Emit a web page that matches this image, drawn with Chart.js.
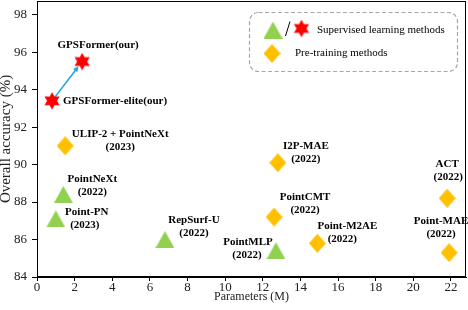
<!DOCTYPE html>
<html>
<head>
<meta charset="utf-8">
<script src="https://cdn.jsdelivr.net/npm/chart.js@4"></script>
<style>
  html, body { margin: 0; padding: 0; background: #fff; }
  #wrap { width: 468px; height: 310px; }
</style>
</head>
<body>
<div id="wrap"><canvas id="myScatter"></canvas></div>
<script>
// supervised learning methods
const supNames = ["PointNeXt", "Point-PN", "RepSurf-U", "PointMLP"];
const supYears = ["(2022)", "(2023)", "(2022)", "(2022)"];
const supParams = [1.4, 1.0, 6.8, 12.7];
const supAcc = [88.4, 87.1, 86.0, 85.4];

// pre-training methods
const preNames = ["ULIP-2 + PointNeXt", "I2P-MAE", "PointCMT", "Point-M2AE", "ACT", "Point-MAE"];
const preYears = ["(2023)", "(2022)", "(2022)", "(2022)", "(2022)", "(2022)"];
const preParams = [1.5, 12.8, 12.6, 14.9, 21.8, 21.9];
const preAcc = [91.0, 90.1, 87.2, 85.8, 88.2, 85.3];

// ours
const oursNames = ["GPSFormer(our)", "GPSFormer-elite(our)"];
const oursParams = [2.4, 0.8];
const oursAcc = [95.5, 93.4];

const xTicks = [0, 2, 4, 6, 8, 10, 12, 14, 16, 18, 20, 22];
const yTicks = [84, 86, 88, 90, 92, 94, 96, 98];

// label placement relative to the marker: [dx, dy, extra dx for year line]
const supOffsets = [[29, -15, 0], [31, -7, -2], [29, -19, 0], [-28, -9, -1]];
const preOffsets = [[55, -12, 0], [28, -17, 0], [31, -20, 0], [30, -17, -5], [0, -34, 1], [-8, -31, 0]];
const oursOffsets = [[16, -16, 0], [63, 0, 0]];

const GREEN = "#92d050";
const ORANGE = "#ffc000";
const RED = "#ff0000";
const FONT = '"Liberation Serif", "Times New Roman", serif';

function makeMarker(w, h, color, draw) {
  const c = document.createElement("canvas");
  c.width = w;
  c.height = h;
  const g = c.getContext("2d");
  g.fillStyle = color;
  g.beginPath();
  draw(g, w, h);
  g.closePath();
  g.fill();
  return c;
}

const triangle = makeMarker(19, 17, GREEN, (g, w, h) => {
  g.moveTo(w / 2, 0);
  g.lineTo(w, h);
  g.lineTo(0, h);
});
const diamond = makeMarker(17, 19, ORANGE, (g, w, h) => {
  g.moveTo(w / 2, 0);
  g.lineTo(w, h / 2);
  g.lineTo(w / 2, h);
  g.lineTo(0, h / 2);
});
const star = makeMarker(18, 18, RED, (g, w, h) => {
  const R = 8.8, r = 5.0;
  for (let k = 0; k < 12; k++) {
    const a = -Math.PI / 2 + k * Math.PI / 6;
    const rad = k % 2 === 0 ? R : r;
    const px = w / 2 + Math.cos(a) * rad;
    const py = h / 2 + Math.sin(a) * rad;
    if (k === 0) g.moveTo(px, py); else g.lineTo(px, py);
  }
});

function toPoints(xs, ys) {
  return xs.map((x, i) => ({ x: x, y: ys[i] }));
}

const arrowPlugin = {
  id: "arrow",
  beforeDatasetsDraw(chart) {
    const meta = chart.getDatasetMeta(2);
    const from = meta.data[1];
    const to = meta.data[0];
    const ang = Math.atan2(to.y - from.y, to.x - from.x);
    const tx = to.x - Math.cos(ang) * 6;
    const ty = to.y - Math.sin(ang) * 6;
    const ctx = chart.ctx;
    ctx.save();
    ctx.strokeStyle = "#1ea7e6";
    ctx.fillStyle = "#1ea7e6";
    ctx.lineWidth = 1.6;
    ctx.beginPath();
    ctx.moveTo(from.x, from.y);
    ctx.lineTo(tx - Math.cos(ang) * 4, ty - Math.sin(ang) * 4);
    ctx.stroke();
    ctx.beginPath();
    ctx.moveTo(tx, ty);
    ctx.lineTo(tx - Math.cos(ang - 0.45) * 6, ty - Math.sin(ang - 0.45) * 6);
    ctx.lineTo(tx - Math.cos(ang + 0.45) * 6, ty - Math.sin(ang + 0.45) * 6);
    ctx.closePath();
    ctx.fill();
    ctx.restore();
  }
};

const labelPlugin = {
  id: "labels",
  afterDatasetsDraw(chart) {
    const ctx = chart.ctx;
    ctx.save();
    ctx.font = "bold 11px " + FONT;
    ctx.fillStyle = "#000";
    ctx.textAlign = "center";
    ctx.textBaseline = "middle";
    chart.data.datasets.forEach((ds, i) => {
      chart.getDatasetMeta(i).data.forEach((pt, j) => {
        const off = ds.labelOffsets[j];
        ctx.fillText(ds.names[j], pt.x + off[0], pt.y + off[1]);
        if (ds.years) ctx.fillText(ds.years[j], pt.x + off[0] + off[2], pt.y + off[1] + 13);
      });
    });
    ctx.restore();
  }
};

const framePlugin = {
  id: "frame",
  afterDraw(chart) {
    const ctx = chart.ctx;
    const a = chart.chartArea;
    ctx.save();
    ctx.strokeStyle = "#000";
    ctx.lineWidth = 1;
    ctx.strokeRect(Math.round(a.left) + 0.5, Math.round(a.top) + 0.5,
      Math.round(a.right - a.left) - 1, Math.round(a.bottom - a.top) - 1);

    // legend box
    ctx.strokeStyle = "#a6a6a6";
    ctx.lineWidth = 1.2;
    ctx.setLineDash([4, 2.5]);
    ctx.beginPath();
    ctx.roundRect(249.5, 12.5, 208, 59, 9);
    ctx.stroke();
    ctx.setLineDash([]);

    ctx.drawImage(triangle, 273 - 9.5, 30 - 8.5);
    ctx.strokeStyle = "#000";
    ctx.lineWidth = 1;
    ctx.beginPath();
    ctx.moveTo(290, 21.5);
    ctx.lineTo(285.5, 36);
    ctx.stroke();
    ctx.drawImage(star, 301.5 - 9, 28.5 - 9);
    ctx.drawImage(diamond, 272 - 8.5, 53.5 - 9.5);

    ctx.fillStyle = "#000";
    ctx.font = "11px " + FONT;
    ctx.textAlign = "left";
    ctx.textBaseline = "middle";
    ctx.fillText("Supervised learning methods", 317, 30.5);
    ctx.fillText("Pre-training methods", 295, 53.5);
    ctx.restore();
  }
};

const ctx = document.getElementById("myScatter");

new Chart(ctx, {
  type: "scatter",
  data: {
    datasets: [
      {
        label: "Supervised learning methods",
        data: toPoints(supParams, supAcc),
        names: supNames,
        years: supYears,
        labelOffsets: supOffsets,
        pointStyle: triangle,
        pointRadius: 9,
      },
      {
        label: "Pre-training methods",
        data: toPoints(preParams, preAcc),
        names: preNames,
        years: preYears,
        labelOffsets: preOffsets,
        pointStyle: diamond,
        pointRadius: 9,
      },
      {
        label: "Ours",
        data: toPoints(oursParams, oursAcc),
        names: oursNames,
        labelOffsets: oursOffsets,
        pointStyle: star,
        pointRadius: 9,
      },
    ],
  },
  options: {
    responsive: true,
    maintainAspectRatio: false,
    animation: false,
    layout: { autoPadding: false, padding: { top: 1, right: 2, left: 0, bottom: 6 } },
    plugins: {
      legend: { display: false },
      tooltip: { enabled: false },
    },
    scales: {
      x: {
        type: "linear",
        min: 0,
        max: 22.8,
        afterBuildTicks: (scale) => { scale.ticks = xTicks.map((v) => ({ value: v })); },
        afterFit: (scale) => {
          scale.height = 27;
          scale.paddingLeft = 0;
          scale.paddingRight = 0;
        },
        grid: { drawOnChartArea: false, color: "#000", tickLength: 4 },
        border: { color: "#000" },
        ticks: { color: "#222", padding: -1, maxRotation: 0, font: { family: FONT, size: 13 } },
        title: {
          display: true,
          text: "Parameters (M)",
          color: "#222",
          padding: 0,
          font: { family: FONT, size: 12 },
        },
      },
      y: {
        type: "linear",
        min: 84,
        max: 98.73,
        afterBuildTicks: (scale) => { scale.ticks = yTicks.map((v) => ({ value: v })); },
        afterFit: (scale) => {
          scale.width = 37;
          scale.paddingTop = 0;
          scale.paddingBottom = 0;
        },
        grid: { drawOnChartArea: false, color: "#000", tickLength: 5 },
        border: { color: "#000" },
        ticks: { color: "#222", padding: 5, font: { family: FONT, size: 13 } },
        title: {
          display: true,
          text: "Overall accuracy (%)",
          color: "#222",
          padding: 0,
          font: { family: FONT, size: 15, lineHeight: 0.85 },
        },
      },
    },
  },
  plugins: [arrowPlugin, labelPlugin, framePlugin],
});
</script>
</body>
</html>
